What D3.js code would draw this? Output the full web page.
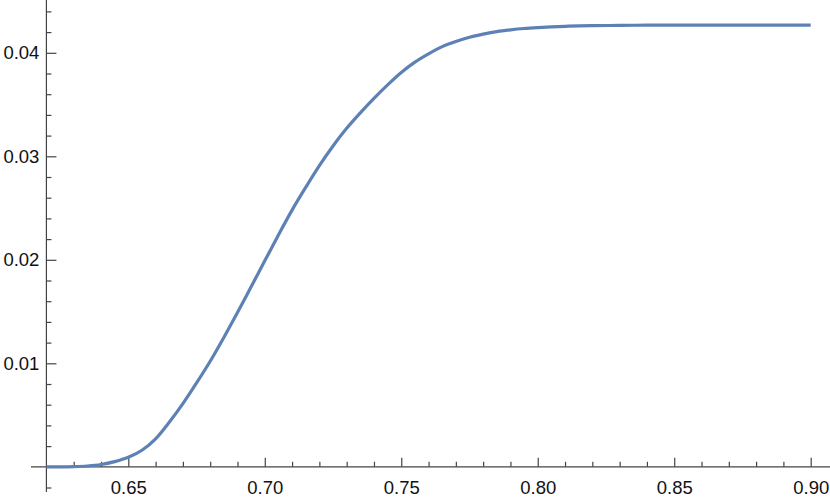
<!DOCTYPE html>
<html>
<head>
<meta charset="utf-8">
<script src="https://cdn.jsdelivr.net/npm/d3@7"></script>
<style>
  body { margin: 0; background: #fff; }
  svg { display: block; }
  .tick text { font-family: "Liberation Sans", Arial, sans-serif; font-size: 18.5px; fill: #111; }
</style>
</head>
<body>
<svg id="chart"></svg>
<script>
const xValues = [0.620, 0.625, 0.630, 0.635, 0.640, 0.645, 0.650, 0.655, 0.660, 0.665,
  0.670, 0.675, 0.680, 0.685, 0.690, 0.695, 0.700, 0.705, 0.710, 0.715,
  0.720, 0.725, 0.730, 0.735, 0.740, 0.745, 0.750, 0.755, 0.760, 0.765,
  0.770, 0.775, 0.780, 0.785, 0.790, 0.795, 0.800, 0.805, 0.810, 0.815,
  0.820, 0.830, 0.840, 0.850, 0.860, 0.870, 0.880, 0.890, 0.900];
const yValues = [0.00000, 0.00000, 0.00002, 0.00008, 0.00022, 0.00050, 0.00092, 0.00160, 0.00270, 0.00430,
  0.00610, 0.00810, 0.01020, 0.01250, 0.01490, 0.01740, 0.01990, 0.02240, 0.02480, 0.02700,
  0.02910, 0.03100, 0.03270, 0.03420, 0.03560, 0.03690, 0.03810, 0.03910, 0.03990, 0.04060,
  0.04110, 0.04150, 0.04180, 0.04205, 0.04222, 0.04235, 0.04244, 0.04251, 0.04256, 0.04260,
  0.04262, 0.04265, 0.04267, 0.04268, 0.04268, 0.04268, 0.04268, 0.04268, 0.04268];

const xMajor = [0.65, 0.70, 0.75, 0.80, 0.85, 0.90];
const xMinor = [0.63, 0.64, 0.66, 0.67, 0.68, 0.69, 0.71, 0.72, 0.73, 0.74, 0.76, 0.77, 0.78, 0.79, 0.81, 0.82, 0.83, 0.84, 0.86, 0.87, 0.88, 0.89];
const yMajor = [0.01, 0.02, 0.03, 0.04];
const yMinor = [-0.002, 0.002, 0.004, 0.006, 0.008, 0.012, 0.014, 0.016, 0.018, 0.022, 0.024, 0.026, 0.028, 0.032, 0.034, 0.036, 0.038, 0.042, 0.044];

const width = 830, height = 497;
const axisColor = '#444';

const svg = d3.select('#chart')
  .attr('width', width)
  .attr('height', height);

const xScale = d3.scaleLinear()
  .domain([0.65, 0.90])
  .range([128.3, 810.7]);

const yScale = d3.scaleLinear()
  .domain([0, 0.04])
  .range([466.8, 52.8]);

const x0 = xScale(0.62);
const y0 = yScale(0);

// axis lines
svg.append('line')
  .attr('x1', 31).attr('x2', width)
  .attr('y1', y0).attr('y2', y0)
  .attr('stroke', axisColor).attr('stroke-width', 1.2);
svg.append('line')
  .attr('x1', x0).attr('x2', x0)
  .attr('y1', 0).attr('y2', 492)
  .attr('stroke', axisColor).attr('stroke-width', 1.2);

// x ticks
const xAxis = d3.axisBottom(xScale)
  .tickValues(xMajor)
  .tickFormat(d3.format('.2f'))
  .tickSizeInner(-9)
  .tickSizeOuter(0)
  .tickPadding(14);
const gx = svg.append('g')
  .attr('transform', `translate(0, ${y0})`)
  .call(xAxis);
gx.select('.domain').remove();

const gxMinor = svg.append('g')
  .attr('transform', `translate(0, ${y0})`)
  .call(d3.axisBottom(xScale).tickValues(xMinor).tickFormat('').tickSizeInner(-5).tickSizeOuter(0));
gxMinor.select('.domain').remove();

// y ticks
const yAxis = d3.axisLeft(yScale)
  .tickValues(yMajor)
  .tickFormat(d3.format('.2f'))
  .tickSizeInner(-10)
  .tickSizeOuter(0)
  .tickPadding(7);
const gy = svg.append('g')
  .attr('transform', `translate(${x0}, 0)`)
  .call(yAxis);
gy.select('.domain').remove();

const gyMinor = svg.append('g')
  .attr('transform', `translate(${x0}, 0)`)
  .call(d3.axisLeft(yScale).tickValues(yMinor).tickFormat('').tickSizeInner(-5).tickSizeOuter(0));
gyMinor.select('.domain').remove();

svg.selectAll('.tick line').attr('stroke', axisColor).attr('stroke-width', 1.2);

// curve
const points = xValues.map((x, i) => [x, yValues[i]]);
const line = d3.line()
  .x(d => xScale(d[0]))
  .y(d => yScale(d[1]))
  .curve(d3.curveMonotoneX);

svg.append('path')
  .datum(points)
  .attr('fill', 'none')
  .attr('stroke', '#5e81b5')
  .attr('stroke-width', 3.2)
  .attr('stroke-linejoin', 'round')
  .attr('d', line);
</script>
</body>
</html>
